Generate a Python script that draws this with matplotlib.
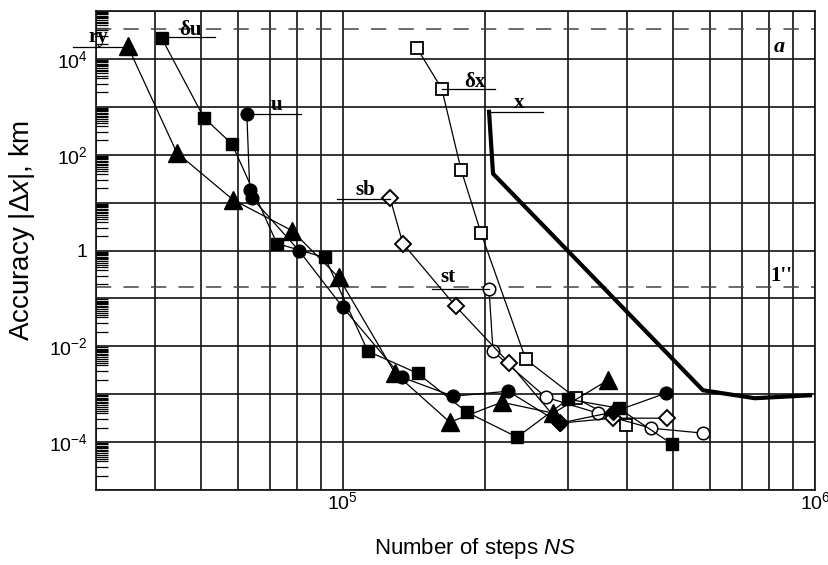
"""Accuracy of the integration methods versus the number of steps (log-log)."""

import matplotlib
matplotlib.use('Agg')
import matplotlib.pyplot as plt
from matplotlib import font_manager
from matplotlib.ticker import FixedLocator, FixedFormatter, NullFormatter

# --- data ---
# ry : filled triangles
ry_ns = [3.50e4, 4.45e4, 5.85e4, 7.80e4, 9.8e4, 1.29e5, 1.685e5, 2.17e5, 2.79e5, 3.64e5]
ry_acc = [1.87e4, 110, 11.5, 2.61, 0.274, 2.74e-3, 2.61e-4, 6.8e-4, 4.02e-4, 1.96e-3]

# du : filled squares
du_ns = [4.13e4, 5.08e4, 5.82e4, 7.25e4, 9.16e4, 1.13e5, 1.44e5, 1.83e5, 2.34e5, 3.0e5, 3.84e5, 4.98e5]
du_acc = [2.74e4, 590, 169, 1.40, 0.715, 7.87e-3, 2.74e-3, 4.22e-4, 1.27e-4, 7.87e-4, 5.1e-4, 9.1e-5]

# u : filled circles (two points in the tail drawn as filled diamonds)
u_ns = [6.26e4, 6.35e4, 6.41e4, 8.07e4, 1.0e5, 1.334e5, 1.71e5, 2.24e5, 4.83e5]
u_acc = [715, 18.7, 12.7, 1.0, 0.065, 2.26e-3, 9.1e-4, 1.155e-3, 1.05e-3]
ud_ns = [2.88e5, 3.73e5]
ud_acc = [2.49e-4, 4.22e-4]

# sb : open diamonds
sb_ns = [1.258e5, 1.34e5, 1.735e5, 2.25e5, 2.88e5, 3.73e5, 4.86e5]
sb_acc = [12.7, 1.40, 0.068, 4.43e-3, 2.49e-4, 3.16e-4, 3.16e-4]

# st : open circles
st_ns = [2.04e5, 2.08e5, 2.69e5, 3.47e5, 4.49e5, 5.79e5]
st_acc = [0.154, 7.87e-3, 8.66e-4, 4.02e-4, 1.96e-4, 1.54e-4]

# dx : open squares
dx_ns = [1.435e5, 1.62e5, 1.78e5, 1.96e5, 2.44e5, 3.12e5, 3.98e5]
dx_acc = [1.70e4, 2.37e3, 48.7, 2.37, 5.36e-3, 8.25e-4, 2.26e-4]

# x : thick line
x_ns = [2.04e5, 2.08e5, 5.79e5, 7.46e5, 9.76e5]
x_acc = [787, 40.2, 1.21e-3, 8.25e-4, 9.5e-4]

# reference levels (geostationary radius, 1 arcsec at GEO)
geo_level = 4.2e4
arcsec_level = 0.175

y_tick_vals = [1e-5, 1e-4, 1e-3, 1e-2, 1e-1, 1, 1e1, 1e2, 1e3, 1e4, 1e5]
y_tick_text = ['', r'$10^{-4}$', '', r'$10^{-2}$', '', '1', '', r'$10^{2}$', '', r'$10^{4}$', '']
x_tick_vals = [1e5, 1e6]
x_tick_text = [r'$10^{5}$', r'$10^{6}$']


def main():
    # the original text looks tall and narrow; use the narrow face if it exists
    installed = {f.name for f in font_manager.fontManager.ttflist}
    if 'Liberation Sans Narrow' in installed:
        narrow = 'Liberation Sans Narrow'
        xlab_size = 19
    else:
        narrow = 'Liberation Sans'
        xlab_size = 16

    plt.rcParams['font.family'] = 'Liberation Sans'
    plt.rcParams['mathtext.fontset'] = 'custom'
    plt.rcParams['mathtext.rm'] = 'Liberation Sans'
    plt.rcParams['mathtext.it'] = narrow + ':italic'
    plt.rcParams['mathtext.bf'] = 'Liberation Sans:bold'

    fig = plt.figure(figsize=(8.29, 5.65), dpi=100)
    ax = fig.add_axes([0.1158, 0.1327, 0.8673, 0.8478])
    ax.set_xscale('log')
    ax.set_yscale('log')
    ax.set_xlim(3e4, 1e6)
    ax.set_ylim(1e-5, 1e5)

    # x axis: gridlines at every 1..9 multiple, labels only at decades
    ax.xaxis.set_major_locator(FixedLocator(x_tick_vals))
    ax.xaxis.set_major_formatter(FixedFormatter(x_tick_text))
    x_minor = [k * 10.0 ** d for d in (4, 5) for k in range(2, 10) if 3e4 <= k * 10.0 ** d <= 1e6]
    ax.xaxis.set_minor_locator(FixedLocator(x_minor))
    ax.xaxis.set_minor_formatter(NullFormatter())
    ax.tick_params(axis='x', which='both', length=0, labelsize=14, pad=0.5)

    # y axis: gridlines every decade, labels every second decade, dense inner ticks
    ax.yaxis.set_major_locator(FixedLocator(y_tick_vals))
    ax.yaxis.set_major_formatter(FixedFormatter(y_tick_text))
    subs = [2, 3, 4, 4.5, 5, 5.5, 6, 6.5, 7, 7.5, 8, 8.5, 9, 9.5]
    y_minor = [k * 10.0 ** d for d in range(-5, 5) for k in subs]
    ax.yaxis.set_minor_locator(FixedLocator(y_minor))
    ax.yaxis.set_minor_formatter(NullFormatter())
    ax.tick_params(axis='y', which='major', length=0, labelsize=14, pad=6)
    ax.tick_params(axis='y', which='minor', direction='in', length=8.5, width=0.9, color='black')

    ax.grid(True, axis='x', which='both', color='#111111', linewidth=1.2)
    ax.grid(True, axis='y', which='major', color='#111111', linewidth=1.2)
    ax.set_axisbelow(True)
    for sp in ax.spines.values():
        sp.set_linewidth(1.2)
        sp.set_color('#111111')

    # dashed reference levels
    ax.axhline(geo_level, color='#444444', linewidth=1.1, dashes=(10, 8), zorder=1.5)
    ax.axhline(arcsec_level, color='#444444', linewidth=1.1, dashes=(10, 8), zorder=1.5)

    lw = 0.9
    # thick x curve
    ax.plot(x_ns, x_acc, color='black', linewidth=3.0, solid_joinstyle='miter', zorder=3)

    # open-marker series
    ax.plot(dx_ns, dx_acc, color='black', linewidth=lw, marker='s', markersize=8.6,
            markerfacecolor='white', markeredgecolor='black', markeredgewidth=1.3, zorder=3)
    ax.plot(st_ns, st_acc, color='black', linewidth=lw, marker='o', markersize=9,
            markerfacecolor='white', markeredgecolor='black', markeredgewidth=1.1, zorder=3)
    ax.plot(sb_ns, sb_acc, color='black', linewidth=lw, marker='D', markersize=8.0,
            markerfacecolor='white', markeredgecolor='black', markeredgewidth=1.4, zorder=3)

    # filled-marker series
    ax.plot(ry_ns, ry_acc, color='black', linewidth=lw, marker='^', markersize=13,
            markerfacecolor='black', markeredgecolor='black', zorder=4)
    ax.plot(du_ns, du_acc, color='black', linewidth=lw, marker='s', markersize=9,
            markerfacecolor='black', markeredgecolor='black', zorder=4)
    # u line runs through the two diamond points in its tail
    u_line_ns = u_ns[:8] + ud_ns + u_ns[8:]
    u_line_acc = u_acc[:8] + ud_acc + u_acc[8:]
    ax.plot(u_line_ns, u_line_acc, color='black', linewidth=lw, zorder=4)
    ax.plot(u_ns, u_acc, linestyle='none', marker='o', markersize=9.2,
            markerfacecolor='black', markeredgecolor='black', zorder=4)
    ax.plot(ud_ns, ud_acc, linestyle='none', marker='D', markersize=8.6,
            markerfacecolor='black', markeredgecolor='black', zorder=5)

    # series labels with short leader lines
    lab = dict(family='Liberation Serif', fontweight='bold', fontsize=15, ha='center', va='baseline')
    lead = dict(color='black', linewidth=0.9, clip_on=False, zorder=4)
    ax.text(3.03e4, 2.26e4, 'ry', **lab)
    ax.plot([2.68e4, 3.5e4], [1.8e4, 1.8e4], **lead)
    ax.text(4.76e4, 3.16e4, 'δu', **lab)
    ax.plot([4.13e4, 5.35e4], [2.87e4, 2.87e4], **lead)
    ax.text(7.25e4, 866, 'u', **lab)
    ax.plot([6.26e4, 8.15e4], [715, 715], **lead)
    ax.text(1.905e5, 2.61e3, 'δx', **lab)
    ax.plot([1.62e5, 2.10e5], [2.37e3, 2.37e3], **lead)
    ax.text(2.36e5, 953, 'x', **lab)
    ax.plot([2.04e5, 2.65e5], [787, 787], **lead)
    ax.text(1.118e5, 14.7, 'sb', **lab)
    ax.plot([9.7e4, 1.258e5], [12.0, 12.0], **lead)
    ax.text(1.67e5, 0.215, 'st', **lab)
    ax.plot([1.544e5, 2.04e5], [0.154, 0.154], **lead)
    ax.text(8.39e5, 1.40e4, 'a', family='Liberation Serif', fontweight='bold',
            fontstyle='italic', fontsize=16, ha='center', va='baseline')
    ax.text(8.47e5, 0.226, "1''", **lab)

    ax.set_xlabel(r'Number of steps $NS$', fontsize=xlab_size, family=narrow)
    ax.set_ylabel(r'Accuracy $|\Delta x|$, km', fontsize=20)
    ax.xaxis.set_label_coords(0.527, -0.095)
    ax.yaxis.set_label_coords(-0.082, 0.543)

    fig.savefig('out.png', dpi=100)


if __name__ == '__main__':
    main()
